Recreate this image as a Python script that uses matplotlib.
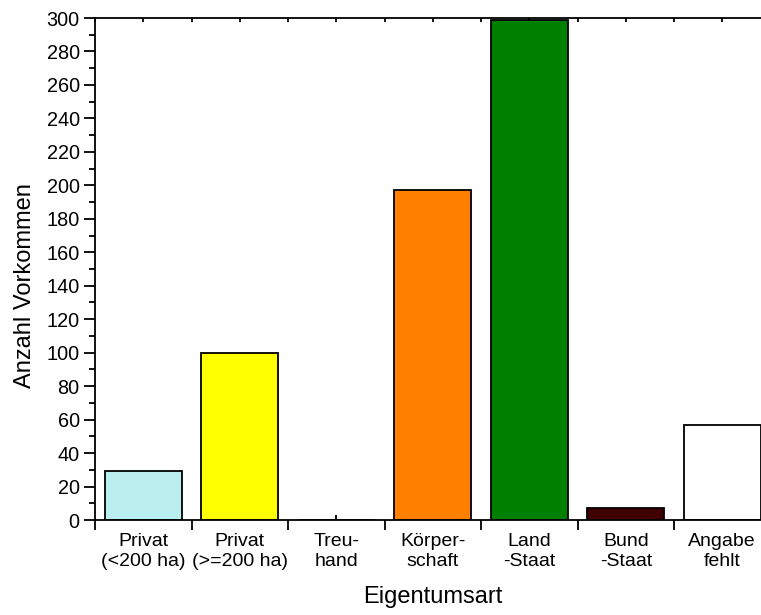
import matplotlib
matplotlib.use("Agg")
import matplotlib.pyplot as plt
from matplotlib.ticker import MultipleLocator, FixedLocator

plt.rcParams['font.family'] = ['Liberation Sans', 'DejaVu Sans']

categories = ["Privat\n(<200 ha)", "Privat\n(>=200 ha)", "Treu-\nhand", "Körper-\nschaft",
              "Land\n-Staat", "Bund\n-Staat", "Angabe\nfehlt"]
values = [29, 100, 0, 197, 299, 7, 57]
colors = ["#BBEEEE", "#FFFF00", "#FFFFFF", "#FF8000", "#008000", "#400000", "#FFFFFF"]

W, H = 761, 615
fig = plt.figure(figsize=(W / 100, H / 100), dpi=100)
left, right, top, bottom = 95, 770.5, 18, 520
ax = fig.add_axes([left / W, 1 - bottom / H, (right - left) / W, (bottom - top) / H])

x = list(range(1, len(values) + 1))
ax.bar(x, values, width=0.8, color=colors, edgecolor="black", linewidth=1.3, zorder=2)

ax.set_xlim(0.5, len(values) + 0.5)
ax.set_ylim(0, 300)

ax.yaxis.set_major_locator(MultipleLocator(20))
ax.yaxis.set_minor_locator(MultipleLocator(10))
ax.tick_params(axis='y', which='major', direction='out', length=8, width=1.3, labelsize=14.3, pad=3)
ax.tick_params(axis='y', which='minor', direction='out', length=4.5, width=1.3)

ax.xaxis.set_major_locator(FixedLocator([i + 0.5 for i in range(0, len(values) + 1)]))
ax.xaxis.set_minor_locator(FixedLocator(x))
ax.set_xticklabels([])
ax.set_xticks(x, categories, minor=True)
ax.tick_params(axis='x', which='major', direction='out', length=7, width=1.3, bottom=True, top=False)
ax.tick_params(axis='x', which='minor', direction='in', length=3.5, width=1.3, labelsize=14, pad=9)
for lbl in ax.get_xticklabels(minor=True):
    lbl.set_linespacing(1.25)

# small ticks along the top frame every half category
top_ax = ax.secondary_xaxis('top')
top_ax.xaxis.set_major_locator(FixedLocator([0.5 + 0.5 * i for i in range(0, 2 * len(values) + 1)]))
top_ax.tick_params(axis='x', direction='in', length=3, width=1.3, labeltop=False)
top_ax.spines['top'].set_visible(False)

for s in ax.spines.values():
    s.set_linewidth(1.3)

ax.set_ylabel("Anzahl Vorkommen", fontsize=17)
ax.yaxis.set_label_coords(-0.087, 0.468)
ax.set_xlabel("Eigentumsart", fontsize=17, labelpad=12)

fig.savefig("out.png", dpi=100)
